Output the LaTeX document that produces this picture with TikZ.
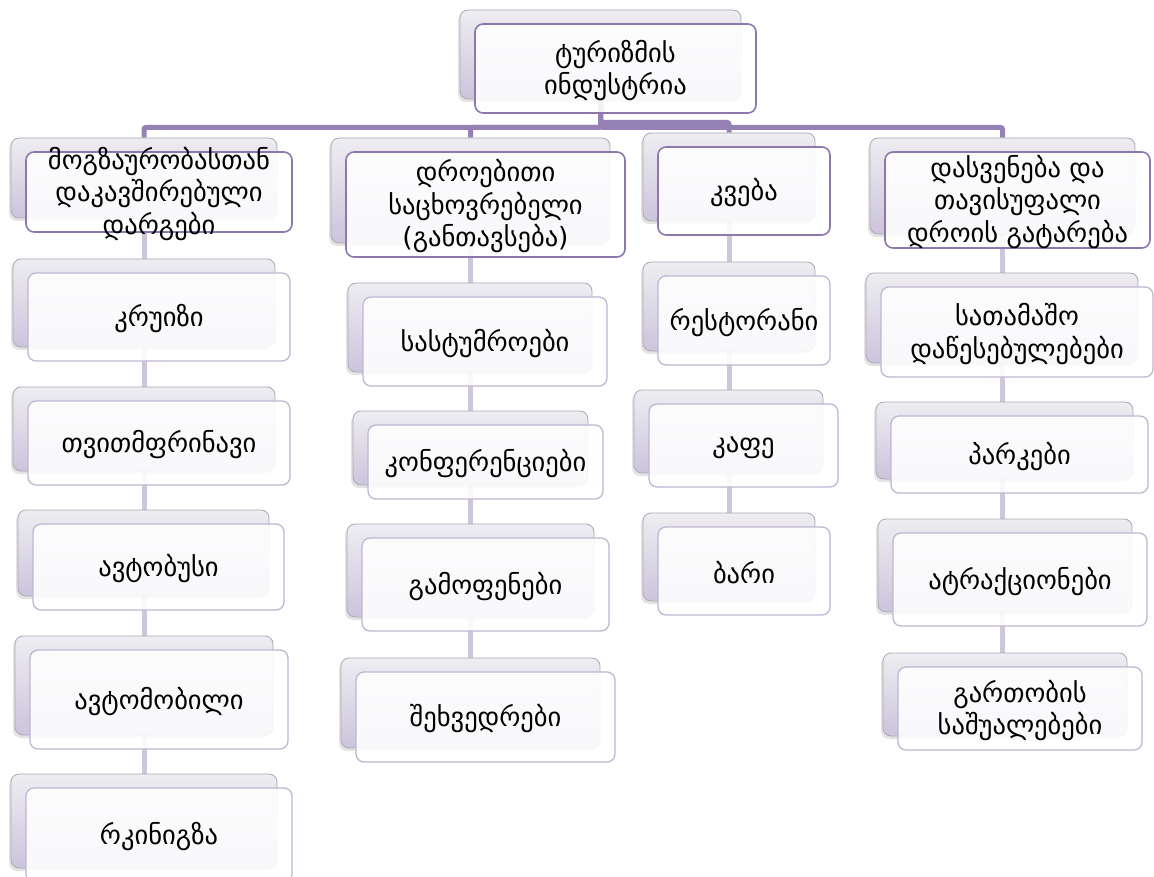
\documentclass[tikz,border=0pt]{standalone}
\usepackage{fontspec}
\setmainfont{DejaVu Sans}
\usetikzlibrary{shadows}
\pgfdeclarelayer{bg}
\pgfdeclarelayer{paper}
\pgfsetlayers{paper,bg,main}
\definecolor{mainc}{RGB}{149,129,179}
\definecolor{chainc}{RGB}{206,198,219}
\definecolor{backtop}{RGB}{238,237,241}
\definecolor{backbot}{RGB}{204,196,220}
\definecolor{backline}{RGB}{170,168,178}
\definecolor{headline}{RGB}{140,120,172}
\definecolor{leafline}{RGB}{192,182,210}
\tikzset{
  backbox/.style={draw=backline, line width=0.8pt, rounded corners=8pt,
    top color=backtop, bottom color=backbot, inner sep=0pt,
    drop shadow={opacity=0.22, shadow xshift=-2pt, shadow yshift=-3pt}},
  frontbox/.style={draw=headline, line width=1.6pt, rounded corners=8pt,
    fill=white, fill opacity=0.88, inner sep=0pt},
  leafbox/.style={frontbox, draw=leafline, line width=1.3pt},
  lbl/.style={font=\fontsize{26.5}{32.5}\selectfont, align=center, text=black, inner sep=0pt},
  mainconn/.style={draw=mainc, line width=5pt, rounded corners=2pt},
  chain/.style={draw=chainc, line width=5pt},
}
\newcommand\pairnode[7]{%
  \node[backbox, minimum width=#4pt, minimum height=#5pt] (#1bk) at (#2-15,#3-14) {};
  \node[#6, minimum width=#4pt, minimum height=#5pt] (#1) at (#2,#3) {};
  \node[lbl] (#1t) at (#2,#3+2) {#7};
}
\begin{document}
\begin{tikzpicture}[x=1pt,y=-1pt]
\begin{pgfonlayer}{paper}
\fill[white] (0,0) rectangle (1154,877);
\end{pgfonlayer}
\useasboundingbox (0,0) rectangle (1154,877);
% top
\pairnode{top}{615.5}{68.5}{281}{89}{frontbox}{ტურიზმის\\ინდუსტრია}
% column 1
\pairnode{ca}{159}{192}{266}{80}{frontbox}{მოგზაურობასთან\\დაკავშირებული\\დარგები}
\pairnode{caa}{159}{317}{262}{88}{leafbox}{კრუიზი}
\pairnode{cab}{159}{443}{262}{84}{leafbox}{თვითმფრინავი}
\pairnode{cac}{158.5}{567}{251}{86}{leafbox}{ავტობუსი}
\pairnode{cad}{159}{699.5}{258}{99}{leafbox}{ავტომობილი}
\pairnode{cae}{159}{835}{266}{94}{leafbox}{რკინიგზა}
% column 2
\pairnode{cb}{485.5}{204.5}{279}{105}{frontbox}{დროებითი\\საცხოვრებელი\\(განთავსება)}
\pairnode{cba}{485}{341.5}{244}{89}{leafbox}{სასტუმროები}
\pairnode{cbb}{485.5}{462}{235}{74}{leafbox}{კონფერენციები}
\pairnode{cbc}{485.5}{584.5}{247}{93}{leafbox}{გამოფენები}
\pairnode{cbd}{485.5}{717}{259}{90}{leafbox}{შეხვედრები}
% column 3
\pairnode{cc}{744}{191}{172}{88}{frontbox}{კვება}
\pairnode{cca}{744}{320.5}{172}{89}{leafbox}{რესტორანი}
\pairnode{ccb}{743.5}{445.5}{189}{83}{leafbox}{კაფე}
\pairnode{ccc}{744}{571}{172}{88}{leafbox}{ბარი}
% column 4
\pairnode{cd}{1017.5}{200}{265}{96}{frontbox}{დასვენება და\\თავისუფალი\\დროის გატარება}
\pairnode{cda}{1017}{332}{272}{90}{leafbox}{სათამაშო\\დაწესებულებები}
\pairnode{cdb}{1019.5}{454.5}{257}{77}{leafbox}{პარკები}
\pairnode{cdc}{1020}{579.5}{254}{93}{leafbox}{ატრაქციონები}
\pairnode{cdd}{1020}{708.5}{244}{83}{leafbox}{გართობის\\საშუალებები}
% connectors
\begin{pgfonlayer}{bg}
\draw[chain] (cabk.center) -- (cabk.center |- caebk.center);
\draw[chain] (cbbk.center) -- (cbbk.center |- cbdbk.center);
\draw[chain] (ccbk.center) -- (ccbk.center |- cccbk.center);
\draw[chain] (cdbk.center) -- (cdbk.center |- cddbk.center);
\draw[mainconn] (topbk.center) -- ([yshift=-28pt]topbk.south) -| (cabk.north);
\draw[mainconn] (topbk.center) -- ([yshift=-28pt]topbk.south) -| (cbbk.north);
\draw[mainconn] (topbk.center) -- ([yshift=-28pt]topbk.south) -| (cdbk.north);
\draw[mainconn] (topbk.center) -- ([yshift=-23pt]topbk.south) -| (ccbk.north);
\end{pgfonlayer}
\end{tikzpicture}
\end{document}
